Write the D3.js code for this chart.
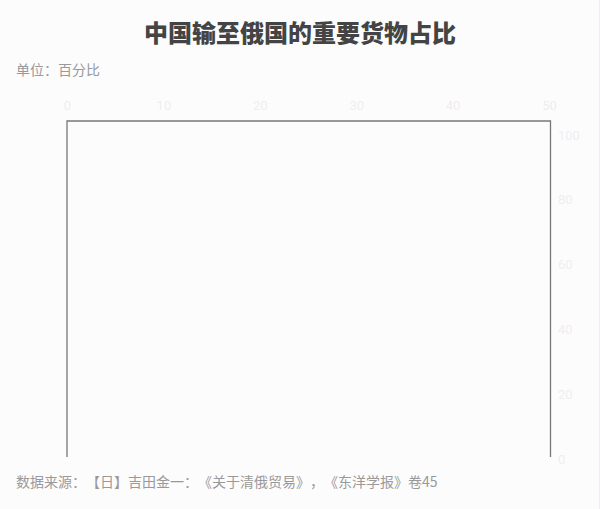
<!DOCTYPE html>
<html>
<head>
<meta charset="utf-8">
<script src="https://cdn.jsdelivr.net/npm/d3@7"></script>
<style>
  html, body { margin: 0; padding: 0; background: #fdfcfd; }
  svg { display: block; }
  svg text { text-spacing-trim: space-all; }
</style>
</head>
<body>
<svg id="chart" width="600" height="509"></svg>
<script>
// chart texts
const title = "中国输至俄国的重要货物占比";
const unitLabel = "单位：百分比";
const sourceLabel = "数据来源：【日】吉田金一：《关于清俄贸易》，《东洋学报》卷45";

// axis domains and ticks
const xDomain = [0, 50];
const xTicks = [0, 10, 20, 30, 40, 50];
const yDomain = [0, 100];
const yTicks = [0, 20, 40, 60, 80, 100];

const svg = d3.select("#chart");
const width = 600, height = 509;
const margin = { left: 67, right: 50, top: 135, bottom: 50 };

svg.append("rect")
    .attr("width", width)
    .attr("height", height)
    .attr("fill", "#fdfcfd");

// faint right edge
svg.append("line")
    .attr("x1", 599.5).attr("x2", 599.5)
    .attr("y1", 0).attr("y2", height)
    .attr("stroke", "#f0eef1");

const x = d3.scaleLinear().domain(xDomain).range([margin.left, 549]);
const y = d3.scaleLinear().domain(yDomain).range([459, margin.top]);

// title
svg.append("text")
    .attr("x", 300)
    .attr("y", 42)
    .attr("text-anchor", "middle")
    .style("font-family", "'Noto Sans CJK SC', sans-serif")
    .style("font-weight", "900")
    .style("font-size", "24px")
    .style("fill", "#444")
    .text(title);

svg.append("text")
    .attr("x", 16)
    .attr("y", 75)
    .style("font-family", "'Noto Sans CJK SC', sans-serif")
    .style("font-size", "14px")
    .style("fill", "#999")
    .text(unitLabel);

svg.append("text")
    .attr("x", 16)
    .attr("y", 487)
    .style("font-family", "'Noto Sans CJK SC', sans-serif")
    .style("font-size", "14px")
    .style("fill", "#999")
    .text(sourceLabel);

// top axis (labels only, very faint)
const xAxis = svg.append("g")
    .attr("transform", "translate(0,110)")
    .call(d3.axisTop(x).tickValues(xTicks).tickSize(0).tickPadding(0));
xAxis.select(".domain").remove();

// right axis
const yAxis = svg.append("g")
    .attr("transform", "translate(558,0)")
    .call(d3.axisRight(y).tickValues(yTicks).tickSize(0).tickPadding(0));
yAxis.select(".domain").remove();

svg.selectAll(".tick text")
    .style("font-family", "Roboto, sans-serif")
    .style("font-size", "13px")
    .style("fill", "#efedf0");

// open frame: left, top, right
const x0 = x(xDomain[0]);
const xr = x(xDomain[1]) + 1.5;
const frame = d3.path();
frame.moveTo(x0, 457);
frame.lineTo(x0, 121);
frame.lineTo(xr, 121);
frame.lineTo(xr, 457);
svg.append("path")
    .attr("d", frame.toString())
    .attr("fill", "none")
    .attr("stroke", "#777")
    .attr("stroke-width", 1.3);
</script>
</body>
</html>
